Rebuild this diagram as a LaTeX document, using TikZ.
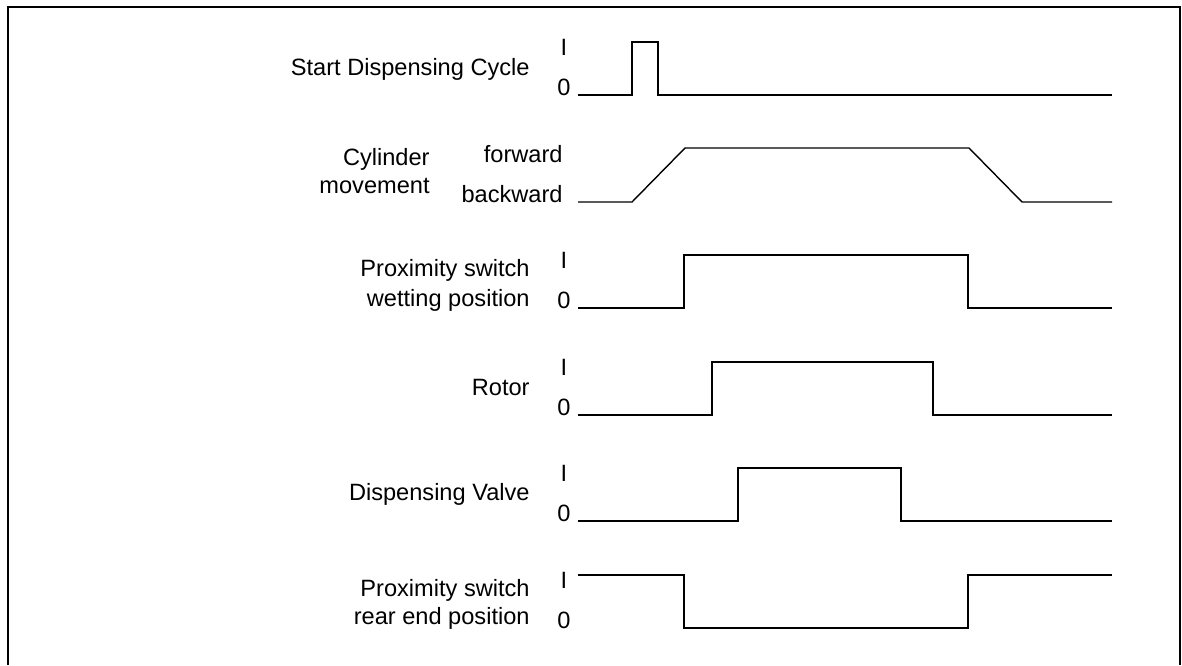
\documentclass[tikz,border=0pt]{standalone}
\usepackage{fontspec}
\setmainfont{Liberation Sans}
\begin{document}
\begin{tikzpicture}[
    x=0.5pt, y=-0.5pt,
    every node/.style={inner sep=0pt, font=\fontsize{11.8}{15}\selectfont},
    signal/.style={line width=0.7pt},
    frame/.style={line width=1pt},
    signame/.style={anchor=base east, align=right},
    lvl/.style={anchor=base}
]
\useasboundingbox (0,0) rectangle (1182,665);

% Frame, open at the bottom
\draw[frame] (8,665) -- (8,7) -- (1180,7) -- (1180,665);

% Signal names (base = last line)
\node[signame] (start) at (530,75.7) {Start Dispensing Cycle};
\node[signame, font=\fontsize{11.8}{13.7}\selectfont] (cyl) at (430,193.3) {Cylinder\\movement};
\node[signame] (wet) at (530,306.7) {Proximity switch\\wetting position};
\node[signame] (rotor) at (530,395.7) {Rotor};
\node[signame] (valve) at (530,500.7) {Dispensing Valve};
\node[signame, font=\fontsize{11.8}{13.7}\selectfont] (rear) at (530,624) {Proximity switch\\rear end position};

% Levels
\foreach \low/\id in {95/start, 308/wet, 415/rotor, 521/valve, 628/rear} {
  \node[lvl] (\id-hi) at (564,\low-40) {I};
  \node[lvl] (\id-lo) at (564,\low+0.5) {0};
}
\node[signame] (cyl-hi) at (563,162.3) {forward};
\node[signame] (cyl-lo) at (563,202.7) {backward};

% Waveforms
\draw[signal] (578,95) -- (632,95) -- (632,42) -- (658,42) -- (658,95) -- (1112,95);
\draw[signal] (578,202) -- (632,202) -- (685,148) -- (969,148) -- (1022,202) -- (1112,202);
\draw[signal] (578,308) -- (684,308) -- (684,255) -- (968,255) -- (968,308) -- (1112,308);
\draw[signal] (578,415) -- (712,415) -- (712,362) -- (933,362) -- (933,415) -- (1112,415);
\draw[signal] (578,521) -- (738,521) -- (738,468) -- (901,468) -- (901,521) -- (1112,521);
\draw[signal] (578,575) -- (684,575) -- (684,628) -- (968,628) -- (968,575) -- (1112,575);

\end{tikzpicture}
\end{document}
